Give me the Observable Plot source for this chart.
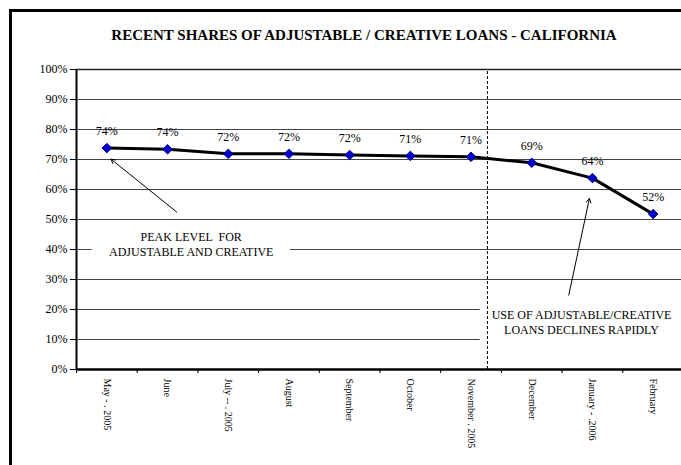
<!DOCTYPE html>
<html><head><meta charset="utf-8">
<script src="https://cdn.jsdelivr.net/npm/d3@7"></script>
<script src="https://cdn.jsdelivr.net/npm/@observablehq/plot@0.6"></script>
<style>
html,body{margin:0;padding:0;background:#fff;overflow:hidden;}
#wrap{position:relative;width:681px;height:465px;overflow:hidden;background:#fff;font-family:"Liberation Serif","Times New Roman",serif;}
#frameTop{position:absolute;left:9px;top:9px;width:672px;height:3px;background:#000;}
#frameLeft{position:absolute;left:9px;top:9px;width:3px;height:456px;background:#000;}
#title{position:absolute;top:27px;left:0;width:728px;text-align:center;font-weight:bold;font-size:15px;line-height:16px;color:#000;}
#chart{position:absolute;left:0;top:0;width:681px;height:465px;overflow:hidden;}
</style></head><body>
<div id="wrap"><div id="chart"></div><div id="frameTop"></div><div id="frameLeft"></div><div id="title">RECENT SHARES OF ADJUSTABLE / CREATIVE LOANS - CALIFORNIA</div></div>
<script>
// Categories (x tick labels) and series values (percent)
const categories = ["May - . 2005","June","July -- . 2005","August","September","October","November . 2005","December","January - .2006","February"];
const shares = [73.8, 73.4, 71.9, 71.9, 71.5, 71.2, 70.9, 68.9, 63.8, 51.8];
const pointLabels = ["74%","74%","72%","72%","72%","71%","71%","69%","64%","52%"];
const yTicks = [0,10,20,30,40,50,60,70,80,90,100];

// Annotations (positions in data units: category index, percent)
const noteTexts = ["PEAK LEVEL  FOR\nADJUSTABLE AND CREATIVE", "USE OF ADJUSTABLE/CREATIVE\nLOANS DECLINES RAPIDLY"];
const noteX = [1.39, 7.82];
const noteY = [42, 15.9];
const boxX1 = [-0.24, 6.15], boxX2 = [3.02, 9.5], boxY1 = [33.5, 7], boxY2 = [47, 29];
const arrowX1 = [1.15, 7.61], arrowY1 = [52.5, 24.8], arrowX2 = [0.07, 7.95], arrowY2 = [70.1, 57];
const dividerAt = [6.27];

const data = categories.map((c, i) => ({i, c, v: shares[i], label: pointLabels[i]}));
const notes = noteTexts.map((t, k) => ({t, x: noteX[k], y: noteY[k]}));
const boxes = boxX1.map((_, k) => ({x1: boxX1[k], x2: boxX2[k], y1: boxY1[k], y2: boxY2[k]}));
const arrows = arrowX1.map((_, k) => ({x1: arrowX1[k], y1: arrowY1[k], x2: arrowX2[k], y2: arrowY2[k]}));
const idx = categories.map((_, i) => i);
const bounds = d3.range(categories.length + 1).map(i => i - 0.5);

const chart = Plot.plot({
  width: 681, height: 465,
  marginLeft: 76, marginRight: -2, marginTop: 69, marginBottom: 96,
  style: {fontFamily: "'Liberation Serif','Times New Roman',serif", fontSize: "12px", background: "transparent"},
  x: {type: "linear", domain: [-0.5, categories.length - 0.5]},
  y: {domain: [0, 100]},
  marks: [
    Plot.ruleY(yTicks.filter(d => d > 0 && d < 100), {stroke: "#444", strokeWidth: 1}),
    Plot.ruleY([100], {stroke: "#222", strokeWidth: 1.5}),
    Plot.rect(boxes, {x1: "x1", x2: "x2", y1: "y1", y2: "y2", fill: "white"}),
    Plot.ruleX(dividerAt, {y1: 0, y2: 100, stroke: "black", strokeWidth: 1, strokeDasharray: "3,2"}),
    Plot.axisY({ticks: yTicks, tickFormat: d => d + "%", tickSize: 6, tickPadding: 3, fontSize: 12, label: null, stroke: "black"}),
    Plot.axisX({ticks: bounds, tickFormat: () => "", tickSize: 4, label: null, stroke: "black"}),
    Plot.axisX({ticks: idx, tickFormat: i => categories[i], tickSize: 0, tickPadding: 9, tickRotate: 90, fontSize: 10, label: null}),
    Plot.ruleX([-0.5], {y1: 0, y2: 100, stroke: "black", strokeWidth: 2}),
    Plot.ruleY([0], {stroke: "black", strokeWidth: 2.5}),
    Plot.line(data, {x: "i", y: "v", stroke: "black", strokeWidth: 3}),
    Plot.dot(data, {x: "i", y: "v", symbol: "diamond2", r: 4.3, fill: "#0000cc", stroke: "#000080", strokeWidth: 1}),
    Plot.text(data, {x: "i", y: "v", text: "label", dy: -17, fontSize: 12, fill: "black"}),
    Plot.arrow(arrows, {x1: "x1", y1: "y1", x2: "x2", y2: "y2", stroke: "black", strokeWidth: 1, headLength: 7}),
    Plot.text(notes, {x: "x", y: "y", text: "t", fontSize: 12, lineHeight: 1.22, fill: "black"})
  ]
});
document.getElementById("chart").appendChild(chart);
</script>
</body></html>
